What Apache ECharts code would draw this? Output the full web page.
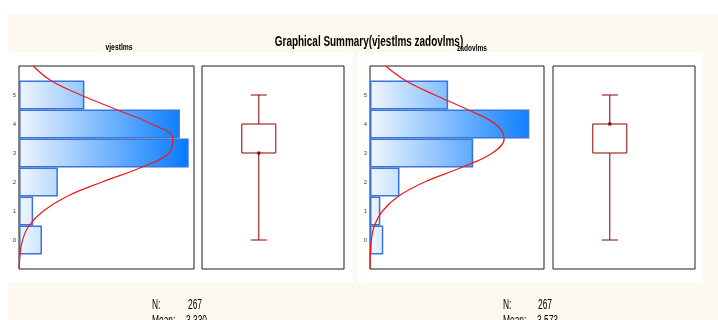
<!DOCTYPE html>
<html>
<head>
<meta charset="utf-8">
<title>Graphical Summary</title>
<script src="https://cdn.jsdelivr.net/npm/echarts@6/dist/echarts.min.js"></script>
<style>
  html, body { margin: 0; padding: 0; background: #fff; }
  #chart { width: 718px; height: 320px; }
</style>
</head>
<body>
<div id="chart"></div>
<script>
// answers 0..5, counts
const bins = ['0', '1', '2', '3', '4', '5'];
const yCats = ['-1', '0', '1', '2', '3', '4', '5', '6'];
const countsVjest = [13, 8, 22, 96, 91, 37];
const countsZadov = [9, 7, 20, 70, 108, 53];

// fitted normal curve (count at each height)
const curveY = [-1, -0.5, 0, 0.5, 1, 1.5, 2, 2.5, 3, 3.5, 4, 4.5, 5, 5.5, 6];
const curveVjest = [0.2, 0.6, 2, 5.7, 13.8, 27, 47, 69, 85, 87, 75, 55, 35, 18, 8];
const curveZadov = [0.1, 0.2, 0.9, 3, 8.5, 19, 37, 62, 83, 91, 85, 66, 44, 24, 10.6];

// min, q1, median, q3, max
const boxVjest = [0, 3, 3, 4, 5];
const boxZadov = [0, 3, 4, 4, 5];

const statN = [267, 267];
const statMean = ['3.330', '3.573'];

const FONT = '"Liberation Sans", Arial, sans-serif';
const BOX_X = 0.4;
const BOX_COLOR = '#8b0000';

const chart = echarts.init(document.getElementById('chart'), null, { renderer: 'canvas' });

const frame = { show: true, borderColor: '#1c1c1c', borderWidth: 1, backgroundColor: '#fff' };

function barFill(x0, x1) {
  return {
    type: 'linear', x: x0, y: 0, x2: x1, y2: 0, global: true,
    colorStops: [{ offset: 0, color: '#f0f6fe' }, { offset: 1, color: '#0078ff' }]
  };
}

function renderBox(params, api) {
  const x = api.value(0);
  const lo = api.coord([x, api.value(1)]);
  const q1 = api.coord([x, api.value(2)]);
  const med = api.coord([x, api.value(3)]);
  const q3 = api.coord([x, api.value(4)]);
  const hi = api.coord([x, api.value(5)]);
  const bw = 34, cw = 16;
  const line = { stroke: BOX_COLOR, lineWidth: 1 };
  return {
    type: 'group',
    children: [
      { type: 'line', shape: { x1: hi[0], y1: hi[1], x2: q3[0], y2: q3[1] }, style: line },
      { type: 'line', shape: { x1: lo[0], y1: lo[1], x2: q1[0], y2: q1[1] }, style: line },
      { type: 'line', shape: { x1: hi[0] - cw / 2, y1: hi[1], x2: hi[0] + cw / 2, y2: hi[1] }, style: line },
      { type: 'line', shape: { x1: lo[0] - cw / 2, y1: lo[1], x2: lo[0] + cw / 2, y2: lo[1] }, style: line },
      { type: 'rect', shape: { x: q3[0] - bw / 2, y: q3[1], width: bw, height: q1[1] - q3[1] },
        style: { fill: '#fff', stroke: BOX_COLOR, lineWidth: 1 } },
      { type: 'rect', shape: { x: med[0] - 1.5, y: med[1] - 1.5, width: 3, height: 3 },
        style: { fill: BOX_COLOR } }
    ]
  };
}

function txt(x, y, text, size, bold, scaleX, align) {
  return {
    type: 'text', x: x, y: y, scaleX: scaleX, z: 100,
    style: {
      text: text, font: (bold ? 'bold ' : '') + size + 'px ' + FONT, fill: '#000',
      align: align, verticalAlign: 'middle', textAlign: align, textVerticalAlign: 'middle'
    }
  };
}

const catAxis = (grid) => ({
  type: 'category', gridIndex: grid, data: yCats, boundaryGap: false,
  axisLine: { show: false }, axisTick: { show: false }, splitLine: { show: false },
  axisLabel: {
    fontSize: 6, color: '#444', fontFamily: FONT, margin: 3,
    formatter: (v) => (bins.includes(v) ? v : '')
  }
});
const hiddenY = (grid, pos) => ({
  type: 'value', gridIndex: grid, min: -1, max: 6, show: false, position: pos
});
const hiddenX = (grid, max) => ({
  type: 'value', gridIndex: grid, min: 0, max: max, show: false
});

const option = {
  animation: false,
  backgroundColor: '#fff',
  graphic: {
    elements: [
      { type: 'rect', z: -100, shape: { x: 8, y: 14, width: 710, height: 306 }, style: { fill: '#fdf9ee' } },
      { type: 'rect', z: -99, shape: { x: 8, y: 52, width: 345, height: 231 }, style: { fill: '#fff' } },
      { type: 'rect', z: -99, shape: { x: 358, y: 52, width: 345, height: 231 }, style: { fill: '#fff' } },
      txt(369, 42, 'Graphical Summary(vjestlms zadovlms)', 14, true, 0.71, 'center'),
      txt(119, 48, 'vjestlms', 9, true, 0.75, 'center'),
      txt(472, 49, 'zadovlms', 9, true, 0.73, 'center'),
      txt(152, 305, 'N:', 14, false, 0.6, 'left'),
      txt(188, 305, String(statN[0]), 14, false, 0.6, 'left'),
      txt(152, 321, 'Mean:', 14, false, 0.6, 'left'),
      txt(186, 321, statMean[0], 14, false, 0.6, 'left'),
      txt(503, 305, 'N:', 14, false, 0.6, 'left'),
      txt(538, 305, String(statN[1]), 14, false, 0.6, 'left'),
      txt(503, 321, 'Mean:', 14, false, 0.6, 'left'),
      txt(537, 321, statMean[1], 14, false, 0.6, 'left')
    ]
  },
  grid: [
    Object.assign({ left: 19, top: 66, width: 175, height: 203 }, frame),
    Object.assign({ left: 202, top: 66, width: 142, height: 203 }, frame),
    Object.assign({ left: 370, top: 66, width: 174, height: 203 }, frame),
    Object.assign({ left: 553, top: 66, width: 142, height: 203 }, frame)
  ],
  xAxis: [hiddenX(0, 99), hiddenX(1, 1), hiddenX(2, 118), hiddenX(3, 1)],
  yAxis: [
    catAxis(0), hiddenY(0, 'right'),
    hiddenY(1, 'left'),
    catAxis(2), hiddenY(2, 'right'),
    hiddenY(3, 'left')
  ],
  series: [
    {
      type: 'bar', xAxisIndex: 0, yAxisIndex: 0, barWidth: '100%',
      data: bins.map((b, i) => [countsVjest[i], b]),
      itemStyle: { color: barFill(19, 190), borderColor: '#3a74d8', borderWidth: 1.5 }
    },
    {
      type: 'line', xAxisIndex: 0, yAxisIndex: 1, smooth: 0.4, showSymbol: false, clip: true,
      data: curveY.map((y, i) => [curveVjest[i], y]),
      lineStyle: { color: '#f01818', width: 1.2 }, z: 5
    },
    {
      type: 'custom', xAxisIndex: 1, yAxisIndex: 2, renderItem: renderBox,
      data: [[BOX_X].concat(boxVjest)]
    },
    {
      type: 'bar', xAxisIndex: 2, yAxisIndex: 3, barWidth: '100%',
      data: bins.map((b, i) => [countsZadov[i], b]),
      itemStyle: { color: barFill(370, 540), borderColor: '#3a74d8', borderWidth: 1.5 }
    },
    {
      type: 'line', xAxisIndex: 2, yAxisIndex: 4, smooth: 0.4, showSymbol: false, clip: true,
      data: curveY.map((y, i) => [curveZadov[i], y]),
      lineStyle: { color: '#f01818', width: 1.2 }, z: 5
    },
    {
      type: 'custom', xAxisIndex: 3, yAxisIndex: 5, renderItem: renderBox,
      data: [[BOX_X].concat(boxZadov)]
    }
  ]
};

chart.setOption(option);
</script>
</body>
</html>
